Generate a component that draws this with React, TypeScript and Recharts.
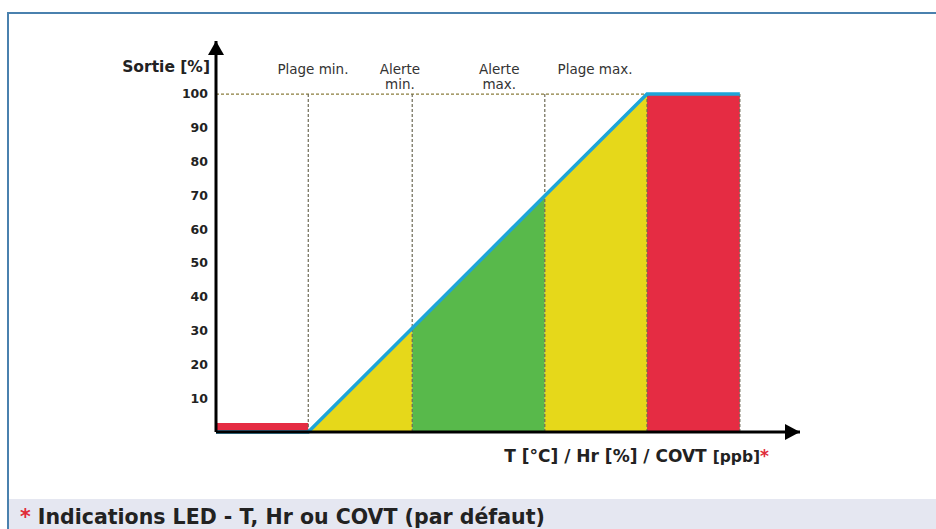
import React from 'react';
import {
  ComposedChart,
  Area,
  Line,
  XAxis,
  YAxis,
  ReferenceLine,
  ReferenceDot,
} from 'recharts';

// x positions of the curve breakpoints (arbitrary units, 0..100 along the axis)
const X_POINTS = [0, 15.8, 33.6, 56.3, 73.8, 89.7];
const OUTPUT = [0, 0, 30.7, 69.9, 100, 100];
const LOW_RED = [2.7, 2.7, null, null, null, null];
const YELLOW_LOW = [null, 0, 30.7, null, null, null];
const GREEN = [null, null, 30.7, 69.9, null, null];
const YELLOW_HIGH = [null, null, null, 69.9, 100, null];
const RED_HIGH = [null, null, null, null, 100, 100];

const Y_TICKS = [10, 20, 30, 40, 50, 60, 70, 80, 90, 100];
const ZONE_LINES = [15.8, 33.6, 56.3, 73.8, 89.7];
const ZONE_LABELS = [['Plage min.'], ['Alerte', 'min.'], ['Alerte', 'max.'], ['Plage max.']];
const ZONE_LABEL_X = [16.6, 31.5, 48.5, 64.9];

const data = X_POINTS.map((x, i) => ({
  x,
  out: OUTPUT[i],
  lowRed: LOW_RED[i],
  yellowLow: YELLOW_LOW[i],
  green: GREEN[i],
  yellowHigh: YELLOW_HIGH[i],
  redHigh: RED_HIGH[i],
}));

const YELLOW = '#e6d81a';
const GREEN_C = '#58b94b';
const RED = '#e52c43';
const BLUE = '#1ea5d8';
const FONT = '"DejaVu Sans", Verdana, sans-serif';

const UpArrow = (props: any) => {
  const { cx, cy } = props;
  return <polygon points={`${cx},${cy} ${cx - 8},${cy + 14} ${cx + 8},${cy + 14}`} fill="#000" />;
};

const RightArrow = (props: any) => {
  const { cx, cy } = props;
  return <polygon points={`${cx},${cy} ${cx - 15},${cy - 8} ${cx - 15},${cy + 8}`} fill="#000" />;
};

const makeLabel = (lines: string[]) => (props: any) => {
  const { cx, cy } = props;
  return (
    <text x={cx} y={cy} textAnchor="middle" fontFamily={FONT} fontSize={13.5} fill="#333">
      {lines.map((l, i) => (
        <tspan key={i} x={cx} dy={i === 0 ? 0 : 15}>
          {l}
        </tspan>
      ))}
    </text>
  );
};

const YTitle = (props: any) => {
  const { cx, cy } = props;
  return (
    <text x={cx - 6} y={cy} textAnchor="end" fontFamily={FONT} fontSize={15.5} fontWeight="bold" fill="#222">
      Sortie [%]
    </text>
  );
};

export default function App() {
  return (
    <div style={{ position: 'relative', width: 936, height: 529, overflow: 'hidden', background: '#fff' }}>
      <style>{`body{margin:0;overflow:hidden}`}</style>
      <div
        style={{
          position: 'absolute',
          left: 7,
          top: 12,
          width: 960,
          height: 560,
          borderTop: '2px solid #4a81ae',
          borderLeft: '2px solid #4a81ae',
        }}
      />
      <div style={{ position: 'absolute', left: 9, top: 499, width: 940, height: 30, background: '#e5e7f1' }} />
      <div
        style={{
          position: 'absolute',
          left: 20,
          top: 506,
          fontFamily: FONT,
          fontWeight: 'bold',
          fontSize: 20.5,
          lineHeight: 1.164,
          color: '#222',
          whiteSpace: 'nowrap',
        }}
      >
        <span style={{ color: '#e02b3a' }}>*</span> Indications LED - T, Hr ou COVT (par défaut)
      </div>
      <div
        style={{
          position: 'absolute',
          right: 936 - 769,
          top: 447,
          fontFamily: FONT,
          fontWeight: 'bold',
          fontSize: 17,
          lineHeight: 1.164,
          color: '#222',
          whiteSpace: 'nowrap',
        }}
      >
        T [°C] / Hr [%] / COVT <span style={{ fontSize: 15.5 }}>[ppb]</span>
        <span style={{ color: '#e02b3a' }}>*</span>
      </div>
      <div style={{ position: 'absolute', left: 0, top: 0 }}>
        <ComposedChart width={936} height={529} data={data} margin={{ top: 41, right: 136, bottom: 96, left: 166 }}>
          <XAxis
            dataKey="x"
            type="number"
            domain={[0, 100]}
            height={1}
            tick={false}
            tickLine={false}
            axisLine={{ stroke: '#000', strokeWidth: 3 }}
          />
          <YAxis
            type="number"
            domain={[0, 115.7]}
            ticks={Y_TICKS}
            width={50}
            interval={0}
            tickLine={false}
            axisLine={{ stroke: '#000', strokeWidth: 3 }}
            tick={{ fontFamily: FONT, fontSize: 12.5, fontWeight: 'bold', fill: '#222' }}
          />
          <Area type="linear" dataKey="lowRed" fill={RED} fillOpacity={1} stroke="none" isAnimationActive={false} />
          <Area type="linear" dataKey="yellowLow" fill={YELLOW} fillOpacity={1} stroke="none" isAnimationActive={false} />
          <Area type="linear" dataKey="green" fill={GREEN_C} fillOpacity={1} stroke="none" isAnimationActive={false} />
          <Area type="linear" dataKey="yellowHigh" fill={YELLOW} fillOpacity={1} stroke="none" isAnimationActive={false} />
          <Area type="linear" dataKey="redHigh" fill={RED} fillOpacity={1} stroke="none" isAnimationActive={false} />
          <ReferenceLine
            segment={[{ x: 0, y: 100 }, { x: 73.8, y: 100 }]}
            stroke="#8a7d3c"
            strokeWidth={1.2}
            strokeDasharray="3 2"
          />
          {ZONE_LINES.map((v) => (
            <ReferenceLine
              key={v}
              segment={[{ x: v, y: 0 }, { x: v, y: 100 }]}
              stroke="#6d6a55"
              strokeWidth={1.2}
              strokeDasharray="3 2"
            />
          ))}
          <Line type="linear" dataKey="out" stroke={BLUE} strokeWidth={3.5} dot={false} isAnimationActive={false} />
          {ZONE_LABELS.map((lines, i) => (
            <ReferenceDot
              key={i}
              x={ZONE_LABEL_X[i]}
              y={105.9}
              ifOverflow="visible"
              shape={makeLabel(lines)}
            />
          ))}
          <ReferenceDot x={0} y={106.6} ifOverflow="visible" shape={YTitle} />
          <ReferenceDot x={0} y={115.7} ifOverflow="visible" shape={UpArrow} />
          <ReferenceDot x={100} y={0} ifOverflow="visible" shape={RightArrow} />
        </ComposedChart>
      </div>
    </div>
  );
}
